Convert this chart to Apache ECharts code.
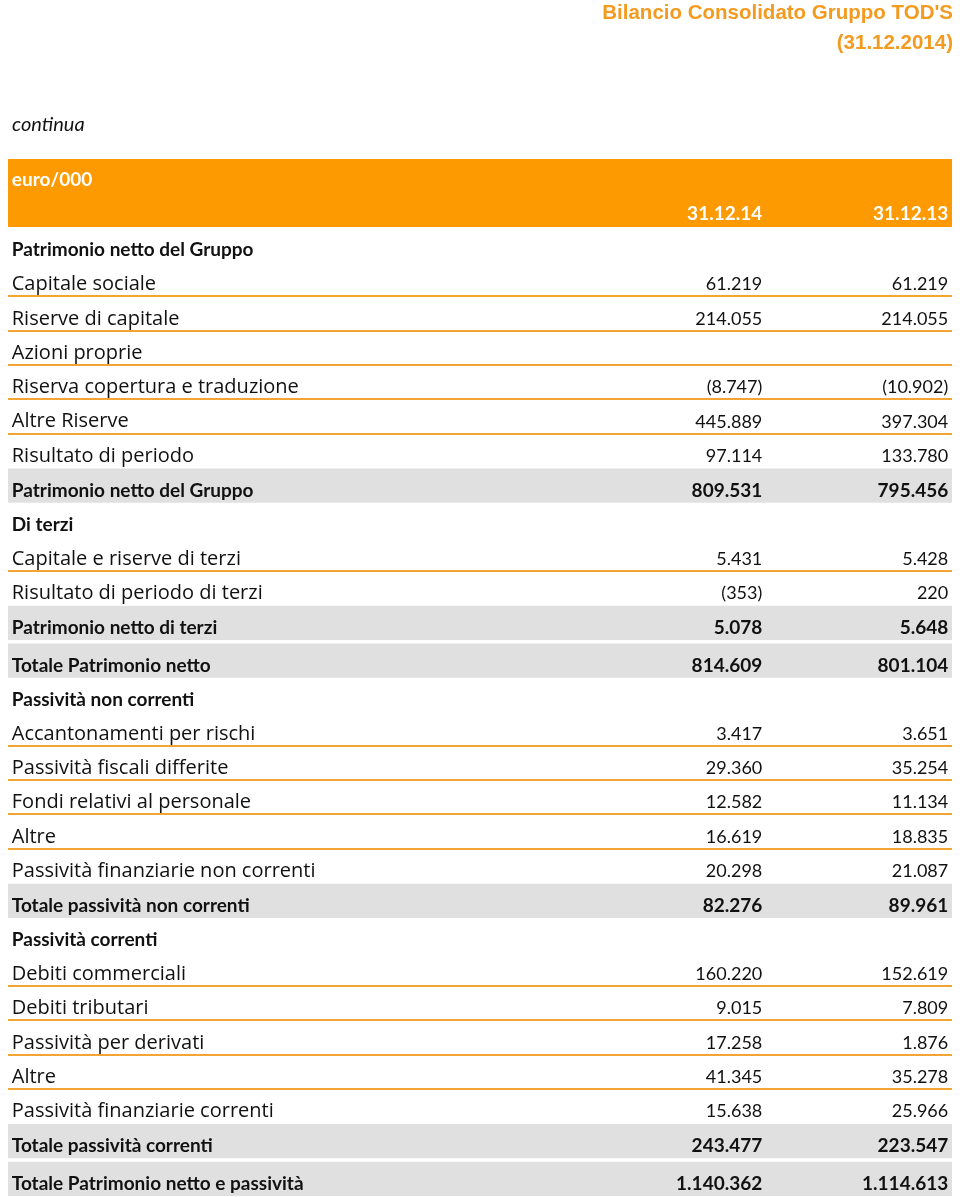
<!DOCTYPE html>
<html>
<head>
<meta charset="utf-8">
<script src="https://cdn.jsdelivr.net/npm/echarts@6/dist/echarts.min.js"></script>
<style>
  html, body { margin: 0; padding: 0; background: #fff; }
  #container { width: 960px; height: 1197px; }
</style>
</head>
<body>
<div id="container"></div>
<script>
var dom = document.getElementById("container");
var myChart = echarts.init(dom);

// table content
var titleLines = ["Bilancio Consolidato Gruppo TOD'S", '(31.12.2014)'];
var unitLabel = 'euro/000';
var columnLabels = ['31.12.14', '31.12.13'];
var rowLabels = [
  'Patrimonio netto del Gruppo',
  'Capitale sociale',
  'Riserve di capitale',
  'Azioni proprie',
  'Riserva copertura e traduzione',
  'Altre Riserve',
  'Risultato di periodo',
  'Patrimonio netto del Gruppo',
  'Di terzi',
  'Capitale e riserve di terzi',
  'Risultato di periodo di terzi',
  'Patrimonio netto di terzi',
  'Totale Patrimonio netto',
  'Passività non correnti',
  'Accantonamenti per rischi',
  'Passività fiscali differite',
  'Fondi relativi al personale',
  'Altre',
  'Passività finanziarie non correnti',
  'Totale passività non correnti',
  'Passività correnti',
  'Debiti commerciali',
  'Debiti tributari',
  'Passività per derivati',
  'Altre',
  'Passività finanziarie correnti',
  'Totale passività correnti',
  'Totale Patrimonio netto e passività'
];
// s = section heading, i = item, t = total
var rowKinds = ['s','i','i','i','i','i','i','t','s','i','i','t','t','s','i','i','i','i','i','t','s','i','i','i','i','i','t','t'];
var values2014 = [null, 61219, 214055, null, -8747, 445889, 97114, 809531, null, 5431, -353, 5078, 814609,
  null, 3417, 29360, 12582, 16619, 20298, 82276, null, 160220, 9015, 17258, 41345, 15638, 243477, 1140362];
var values2013 = [null, 61219, 214055, null, -10902, 397304, 133780, 795456, null, 5428, 220, 5648, 801104,
  null, 3651, 35254, 11134, 18835, 21087, 89961, null, 152619, 7809, 1876, 35278, 25966, 223547, 1114613];

// row positions: one unit per row, a small gap between two consecutive totals
var rowPos = [];
var shift = 0;
rowKinds.forEach(function (k, i) {
  if (k === 't' && rowKinds[i - 1] === 't') shift += 0.1;
  rowPos.push(i + shift);
});

function fmt(v) {
  if (v == null) return '';
  var s = Math.abs(v).toString().replace(/\B(?=(\d{3})+(?!\d))/g, '.');
  return v < 0 ? '(' + s + ')' : s;
}

var colX = [0.004, 0.799, 0.996];
var orange = '#fd9a01';
var titleColor = '#f29b20';

function renderRow(params, api) {
  var i = params.dataIndex;
  var cs = params.coordSys;
  var y = api.coord([0, rowPos[i]])[1];
  var unit = api.size([0, 1])[1];
  var kind = rowKinds[i];
  var children = [];
  if (kind === 't') {
    children.push({
      type: 'rect',
      shape: { x: cs.x, y: y - 0.58 * unit, width: cs.width, height: 1.0 * unit },
      style: { fill: '#e0e0e0' }
    });
  }
  if (kind === 'i' && rowKinds[i + 1] === 'i') {
    var ly = Math.round(y + 0.4 * unit);
    children.push({
      type: 'line',
      shape: { x1: cs.x, y1: ly, x2: cs.x + cs.width, y2: ly },
      style: { stroke: '#f2a532', lineWidth: 2 }
    });
  }
  var labelFont = kind === 'i' ? '20px "Open Sans"' : 'bold 19px Lato';
  var numFont = kind === 'i' ? '18px Lato' : 'bold 19px Lato';
  var ty = y + 2;
  children.push({
    type: 'text',
    x: api.coord([colX[0], 0])[0], y: ty,
    style: { text: rowLabels[i], font: labelFont, fill: '#111', align: 'left', verticalAlign: 'middle' }
  });
  [values2014[i], values2013[i]].forEach(function (v, c) {
    children.push({
      type: 'text',
      x: api.coord([colX[c + 1], 0])[0], y: ty,
      style: { text: fmt(v), font: numFont, fill: '#111', align: 'right', verticalAlign: 'middle' }
    });
  });
  return { type: 'group', children: children };
}

function renderHeader(params, api) {
  var cs = params.coordSys;
  var top = api.coord([0, -2.6])[1];
  var bot = api.coord([0, -0.62])[1];
  var children = [{
    type: 'rect',
    shape: { x: cs.x, y: top, width: cs.width, height: bot - top },
    style: { fill: orange }
  }, {
    type: 'text',
    x: api.coord([colX[0], 0])[0], y: api.coord([0, -1.98])[1],
    style: { text: unitLabel, font: 'bold 19px Lato', fill: '#fff', align: 'left', verticalAlign: 'middle' }
  }];
  columnLabels.forEach(function (lab, c) {
    children.push({
      type: 'text',
      x: api.coord([colX[c + 1], 0])[0], y: api.coord([0, -1.0])[1],
      style: { text: lab, font: 'bold 19px Lato', fill: '#fff', align: 'right', verticalAlign: 'middle' }
    });
  });
  return { type: 'group', children: children };
}

option = {
  backgroundColor: '#fff',
  animation: false,
  graphic: [{
    type: 'text',
    right: 7,
    top: 3,
    style: { text: titleLines[0], font: 'bold 20.5px "Liberation Sans"', fill: titleColor }
  }, {
    type: 'text',
    right: 7,
    top: 33,
    style: { text: titleLines[1], font: 'bold 20.5px "Liberation Sans"', fill: titleColor }
  }, {
    type: 'text',
    left: 12,
    top: 115,
    style: { text: 'continua', font: 'italic 20px Lato', fill: '#111' }
  }],
  grid: { left: 8, right: 8, top: 159, bottom: 0 },
  xAxis: { type: 'value', min: 0, max: 1, show: false },
  yAxis: { type: 'value', min: -2.6, max: 27.65, inverse: true, show: false },
  series: [{
    type: 'custom',
    renderItem: renderHeader,
    data: [[0, -1]],
    encode: { x: 0, y: 1 },
    silent: true
  }, {
    type: 'custom',
    renderItem: renderRow,
    data: rowPos.map(function (p) { return [0, p]; }),
    encode: { x: 0, y: 1 },
    silent: true
  }]
};

if (option && typeof option === "object") {
  myChart.setOption(option, true);
}
</script>
</body>
</html>
